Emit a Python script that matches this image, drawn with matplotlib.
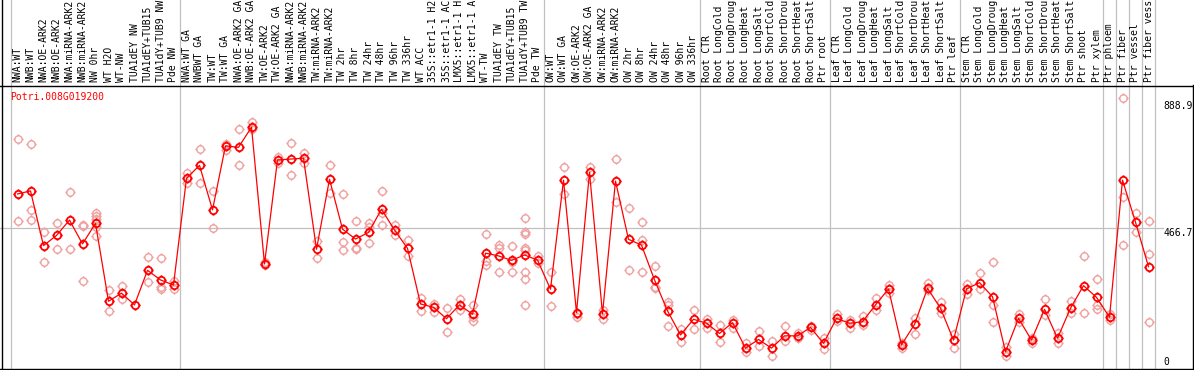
import matplotlib
matplotlib.use("Agg")
import matplotlib.pyplot as plt
from matplotlib.path import Path
from matplotlib.lines import Line2D

# ---------------- data ----------------
categories = [
    "NWA:WT", "NWB:WT", "NWA:OE-ARK2", "NWB:OE-ARK2", "NWA:miRNA-ARK2", "NWB:miRNA-ARK2",
    "NW 0hr", "WT H2O", "WT-NW", "TUA1dEY NW", "TUA1dEY+TUB15", "TUA1dY+TUB9 NW", "Pde NW",
    "NWA:WT GA", "NWBWT GA", "TW:WT", "TW:WT GA", "NWA:OE-ARK2 GA", "NWB:OE-ARK2 GA",
    "TW:OE-ARK2", "TW:OE-ARK2 GA", "NWA:miRNA-ARK2", "NWB:miRNA-ARK2", "TW:miRNA-ARK2",
    "TW:miRNA-ARK2", "TW 2hr", "TW 8hr", "TW 24hr", "TW 48hr", "TW 96hr", "TW 336hr",
    "WT ACC", "35S::etr1-1 H2", "35S::etr1-1 AC", "LMX5::etr1-1 H", "LMX5::etr1-1 A",
    "WT-TW", "TUA1dEY TW", "TUA1dEY+TUB15", "TUA1dY+TUB9 TW", "Pde TW",
    "OW:WT", "OW:WT GA", "OW:OE-ARK2", "OW:OE-ARK2 GA", "OW:miRNA-ARK2", "OW:miRNA-ARK2",
    "OW 2hr", "OW 8hr", "OW 24hr", "OW 48hr", "OW 96hr", "OW 336hr",
    "Root CTR", "Root LongCold", "Root LongDroug", "Root LongHeat", "Root LongSalt",
    "Root ShortCold", "Root ShortDrou", "Root ShortHeat", "Root ShortSalt", "Ptr root",
    "Leaf CTR", "Leaf LongCold", "Leaf LongDroug", "Leaf LongHeat", "Leaf LongSalt",
    "Leaf ShortCold", "Leaf ShortDrou", "Leaf ShortHeat", "Leaf ShortSalt", "Ptr leaf",
    "Stem CTR", "Stem LongCold", "Stem LongDroug", "Stem LongHeat", "Stem LongSalt",
    "Stem ShortCold", "Stem ShortDrou", "Stem ShortHeat", "Stem ShortSalt", "Ptr shoot",
    "Ptr xylem", "Ptr phloem", "Ptr fiber", "Ptr vessel", "Ptr fiber vess",
]

mean_values = [
    579, 589, 407, 441, 492, 413, 481, 222, 249, 210, 325, 293, 276,
    631, 674, 526, 739, 734, 801, 346, 692, 695, 698, 395, 628, 462, 429, 451, 528,
    459, 398, 213, 202, 164, 210, 179, 382, 373, 358, 376, 359,
    262, 625, 184, 651, 180, 622, 428, 409, 293, 190, 110, 162,
    149, 115, 151, 66, 95, 66, 107, 107, 135, 82,
    165, 149, 154, 210, 263, 77, 145, 265, 199, 93,
    263, 284, 237, 54, 165, 93, 195, 99, 199, 274, 235,
    169, 625, 485, 337,
]

replicates = [
    [761, 489], [746, 527, 492], [453, 352], [483, 396], [584, 396], [476, 473, 289],
    [517, 506, 495, 470, 439], [258, 188], [273, 229], [], [368, 285], [365, 270, 263],
    [291, 263],
    [650, 614], [728, 617], [588, 465], [745, 725], [794, 675], [817, 795], [351, 343],
    [703, 681], [747, 642], [716, 681], [424, 366], [675, 583], [578, 419, 392],
    [489, 398, 395], [482, 469, 415], [589, 514, 477], [476, 441], [425, 373],
    [234, 190], [212, 186], [199, 119], [229, 193], [210, 168, 156], [446, 357, 341],
    [409, 398, 319], [406, 352, 319], [498, 453, 446, 399, 393, 318, 295, 210], [373, 348],
    [321, 206], [667, 580], [180, 171], [669, 630], [193, 162], [694, 551], [531, 327],
    [485, 425, 321], [340, 271, 265], [220, 209, 140], [130, 88], [193, 129],
    [162, 134], [143, 85], [160, 134], [83, 54], [124, 73], [91, 41], [139, 91],
    [117, 99], [139, 128], [99, 63],
    [178, 157], [160, 133], [174, 143], [233, 193], [276, 250], [83, 66], [165, 112],
    [282, 260], [219, 183], [112, 66],
    [279, 246], [315, 263], [352, 210, 152], [71, 41], [180, 152], [99, 82], [229, 177],
    [117, 82], [223, 183], [373, 183], [295, 210, 196],
    [180, 160], [897, 568, 409], [515, 453], [489, 380, 152],
]

group_bounds = [0, 13, 41, 53, 63, 73, 84, 85, 86, 87, 88]
y_ticks = [888.9, 466.7, 0]
y_tick_labels = ["888.9", "466.7", "0"]
gene_name = "Potri.008G019200"

# ---------------- figure ----------------
W, H = 1194, 370
fig = plt.figure(figsize=(W / 100, H / 100), dpi=100)
fig.patch.set_facecolor("white")

def fx(px):
    return px / W

def fy(py):
    return 1 - py / H

plot_left, plot_right, plot_top, plot_bottom = 11, 1155, 85, 368
ax = fig.add_axes([fx(plot_left), fy(plot_bottom), (plot_right - plot_left) / W,
                   (plot_bottom - plot_top) / H])
ax.set_xlim(0, len(categories))
ax.set_ylim(0, (plot_bottom - plot_top) * 466.7 / (plot_bottom - 227.7))
ax.set_axis_off()

mono = "DejaVu Sans Mono"
fs = 7.0
grey = "#c0c0c0"

# vertical group lines (extend through label band)
ext = (plot_bottom - 0) / (plot_bottom - plot_top)
for b in group_bounds:
    ax.axvline(b, ymin=0, ymax=ext, color=grey, lw=0.9, clip_on=False, zorder=1)

# horizontal grid line at middle tick
ax.axhline(466.7, xmin=-plot_left / (plot_right - plot_left),
           xmax=(1163 - plot_left) / (plot_right - plot_left),
           color=grey, lw=0.9, clip_on=False, zorder=1)

# frame lines
for (x0, y0, x1, y1) in [(0, 85.5, W, 85.5), (0, 368.5, W, 368.5),
                         (1.5, 0, 1.5, H), (1192.5, 85, 1192.5, H)]:
    fig.add_artist(Line2D([fx(x0), fx(x1)], [fy(y0), fy(y1)], transform=fig.transFigure,
                          color="black", lw=1.0))

# custom marker: circle with little ticks
circ = Path.unit_circle()
tv = [(0, 1), (0, 1.4), (0, -1), (0, -1.4), (1, 0), (1.4, 0), (-1, 0), (-1.4, 0)]
tc = [Path.MOVETO, Path.LINETO] * 4
marker_path = Path.make_compound_path(circ, Path(tv, tc))

xs = [i + 0.5 for i in range(len(categories))]

rx, ry = [], []
for i, reps in enumerate(replicates):
    for v in reps:
        rx.append(xs[i])
        ry.append(v)
ax.plot(rx, ry, linestyle="none", marker=marker_path, markersize=7.4,
        markerfacecolor="none", markeredgecolor="#f0a0a0", markeredgewidth=1.0,
        clip_on=False, zorder=2)

ax.plot(xs, mean_values, color="red", lw=0.9, marker=marker_path, markersize=7.4,
        markerfacecolor="none", markeredgecolor="red", markeredgewidth=1.3,
        clip_on=False, zorder=3)

# category labels in top band
for i, lab in enumerate(categories):
    fig.text(fx(plot_left + 13 * (i + 0.5)), fy(82.5), lab, rotation=90,
             ha="center", va="bottom", fontsize=fs, family=mono, color="black")

# right-side value labels
offsets = [-5, -5, 6]
for v, lab, off in zip(y_ticks, y_tick_labels, offsets):
    ax.annotate(lab, xy=(len(categories), v), xytext=(8, off), textcoords="offset pixels",
                ha="left", va="center", fontsize=fs, family=mono, color="black",
                annotation_clip=False)

fig.text(fx(10), fy(96.7), gene_name, ha="left", va="center", fontsize=fs,
         family=mono, color="red")

fig.savefig("out.png", dpi=100)
